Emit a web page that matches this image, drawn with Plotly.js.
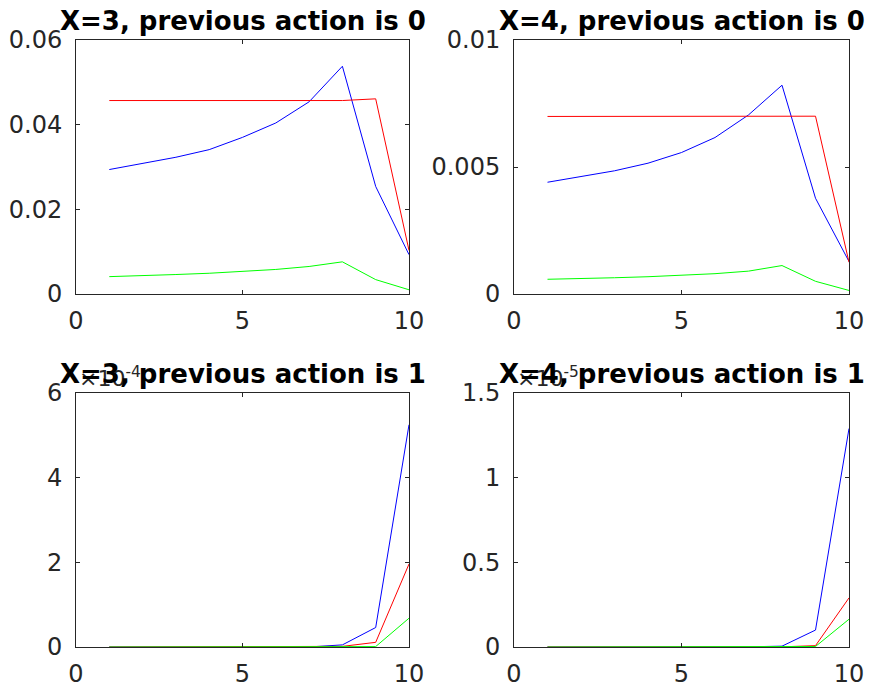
<!DOCTYPE html>
<html>
<head>
<meta charset="utf-8">
<script src="https://cdn.plot.ly/plotly-3.0.1.min.js"></script>
<style>html,body{margin:0;padding:0;background:#fff;}#chart{width:870px;height:688px;}</style>
</head>
<body>
<div id="chart"></div>
<script>
// ---- data ----
const steps = [1, 2, 3, 4, 5, 6, 7, 8, 9, 10];

const titles = [
  "X=3, previous action is 0",
  "X=4, previous action is 0",
  "X=3, previous action is 1",
  "X=4, previous action is 1"
];

// X=3, previous action 0
const x3a0Blue  = [0.0294, 0.0308, 0.0323, 0.0341, 0.0370, 0.0404, 0.0454, 0.0538, 0.0254, 0.0093];
const x3a0Red   = [0.0457, 0.0457, 0.0457, 0.0457, 0.0457, 0.0457, 0.0457, 0.0457, 0.0461, 0.0103];
const x3a0Green = [0.0041, 0.0043, 0.0046, 0.0049, 0.0053, 0.0058, 0.0065, 0.0076, 0.0034, 0.0010];

// X=4, previous action 0
const x4a0Blue  = [0.00440, 0.00463, 0.00485, 0.00515, 0.00557, 0.00616, 0.00705, 0.00822, 0.00377, 0.00128];
const x4a0Red   = [0.00699, 0.00699, 0.00699, 0.00699, 0.00699, 0.00699, 0.00699, 0.00699, 0.00700, 0.00125];
const x4a0Green = [0.00058, 0.00060, 0.00064, 0.00068, 0.00073, 0.00080, 0.00090, 0.00112, 0.00050, 0.00014];

// X=3, previous action 1
const x3a1Blue  = [0, 0, 0, 0, 0, 0, 0.00000005, 0.000005, 0.000046, 0.000525];
const x3a1Red   = [0, 0, 0, 0, 0, 0, 0.00000002, 0.0000015, 0.000011, 0.000196];
const x3a1Green = [0, 0, 0, 0, 0, 0, 0.00000001, 0.0000003, 0.000001, 0.000068];

// X=4, previous action 1
const x4a1Blue  = [0, 0, 0, 0, 0, 0, 0.00000001, 0.00000005, 0.0000010, 0.0000129];
const x4a1Red   = [0, 0, 0, 0, 0, 0, 0, 0.00000001, 0.00000008, 0.0000029];
const x4a1Green = [0, 0, 0, 0, 0, 0, 0, 0, 0.00000003, 0.00000164];

const yRanges = [[0, 0.06], [0, 0.01], [0, 6e-4], [0, 1.5e-5]];
const yTickVals = [
  [0, 0.02, 0.04, 0.06],
  [0, 0.005, 0.01],
  [0, 2e-4, 4e-4, 6e-4],
  [0, 0.5e-5, 1e-5, 1.5e-5]
];
const yTickText = [
  ["0", "0.02", "0.04", "0.06"],
  ["0", "0.005", "0.01"],
  ["0", "2", "4", "6"],
  ["0", "0.5", "1", "1.5"]
];
const xTickVals = [0, 5, 10];
const xTickText = ["0", "5", "10"];
const exponents = [null, null, "-4", "-5"];

// ---- figure ----
const series = [
  [x3a0Blue, x3a0Red, x3a0Green],
  [x4a0Blue, x4a0Red, x4a0Green],
  [x3a1Blue, x3a1Red, x3a1Green],
  [x4a1Blue, x4a1Red, x4a1Green]
];
const colors = ["#0000ff", "#ff0000", "#00ff00"];

const W = 870, H = 688;
// pixel boxes of the four axes [left, right, top, bottom]
const boxes = [
  [76, 409, 40, 294],
  [514, 849, 40, 294],
  [76, 409, 393, 647],
  [514, 849, 393, 647]
];

const traces = [];
series.forEach((grp, i) => {
  const sfx = i === 0 ? "" : String(i + 1);
  grp.forEach((ys, j) => {
    traces.push({
      x: steps, y: ys, type: "scatter", mode: "lines",
      xaxis: "x" + sfx, yaxis: "y" + sfx,
      line: {color: colors[j], width: 1},
      hoverinfo: "skip", showlegend: false
    });
  });
});

const axisFont = {family: "DejaVu Sans", size: 24, color: "#262626"};
const layout = {
  width: W, height: H,
  margin: {l: 0, r: 0, t: 0, b: 0},
  paper_bgcolor: "#ffffff", plot_bgcolor: "#ffffff",
  showlegend: false,
  annotations: []
};

boxes.forEach((b, i) => {
  const sfx = i === 0 ? "" : String(i + 1);
  const common = {
    showline: true, mirror: "ticks", linecolor: "#262626", linewidth: 1,
    ticks: "inside", ticklen: 4, tickcolor: "#262626", tickwidth: 1,
    showgrid: false, zeroline: false, tickfont: axisFont, fixedrange: true
  };
  layout["xaxis" + sfx] = Object.assign({}, common, {
    domain: [b[0] / W, b[1] / W], range: [0, 10],
    tickmode: "array", tickvals: xTickVals, ticktext: xTickText,
    anchor: "y" + sfx, ticklabelstandoff: 5
  });
  layout["yaxis" + sfx] = Object.assign({}, common, {
    domain: [1 - b[3] / H, 1 - b[2] / H], range: yRanges[i],
    tickmode: "array", tickvals: yTickVals[i], ticktext: yTickText[i],
    anchor: "x" + sfx, ticklabelstandoff: 8
  });
  if (exponents[i]) {
    layout.annotations.push({
      xref: "paper", yref: "paper",
      x: (b[0] + 1) / W, y: 1 - b[2] / H,
      xanchor: "left", yanchor: "bottom", yshift: 0,
      showarrow: false,
      text: "×10<sup>" + exponents[i] + "</sup>",
      font: {family: "DejaVu Sans", size: 22, color: "#262626"}
    });
  }
  layout.annotations.push({
    xref: "paper", yref: "paper",
    x: (b[0] + b[1]) / 2 / W, y: 1 - b[2] / H,
    xanchor: "center", yanchor: "bottom", yshift: 2,
    showarrow: false,
    text: "<b>" + titles[i] + "</b>",
    font: {family: "DejaVu Sans", size: 26, color: "#000000"}
  });
});

Plotly.newPlot("chart", traces, layout, {staticPlot: true, displayModeBar: false});
</script>
</body>
</html>
